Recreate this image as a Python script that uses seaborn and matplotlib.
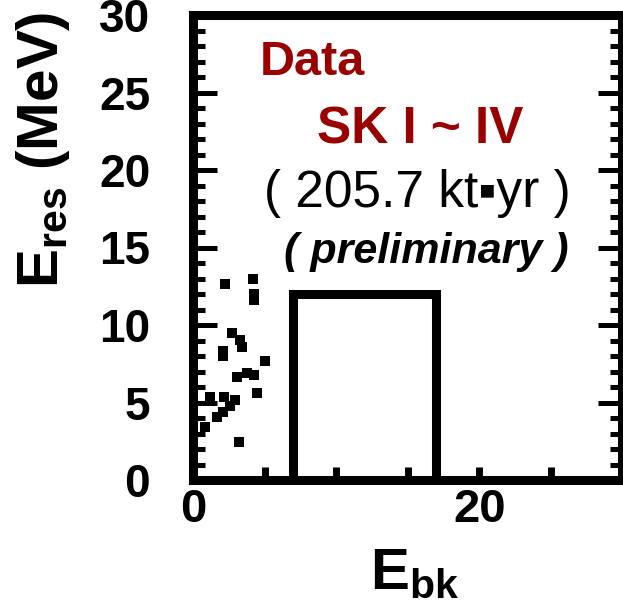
import numpy as np
import pandas as pd
import matplotlib
matplotlib.use("Agg")
import matplotlib.pyplot as plt
from matplotlib.ticker import MultipleLocator, FixedLocator
import seaborn as sns

# Observed events: background-window energy vs. reconstructed energy
e_bk = [2.22, 4.20, 4.27, 4.27, 2.71, 3.27, 3.43, 2.10, 2.10, 5.01, 3.76, 4.25,
        3.08, 4.43, 2.92, 2.15, 1.17, 1.64, 2.10, 2.57, 0.82, 3.22]
e_res = [12.65, 13.0, 12.0, 11.6, 9.48, 9.03, 8.56, 8.35, 8.0, 7.70, 6.9, 6.77,
         6.66, 5.63, 5.15, 5.34, 5.35, 4.08, 4.41, 4.77, 3.44, 2.47]

# Signal window
window_ebk = [7, 17]
window_eres_max = 12

x_ticks = [0, 20]
x_minor = [5, 10, 15, 25, 30]
y_ticks = [0, 5, 10, 15, 20, 25, 30]

sns.set_style("ticks")
plt.rcParams["font.family"] = ["Liberation Sans", "DejaVu Sans"]
plt.rcParams["text.color"] = "black"
plt.rcParams["xtick.labelcolor"] = "black"
plt.rcParams["ytick.labelcolor"] = "black"
plt.rcParams["mathtext.fontset"] = "custom"
plt.rcParams["mathtext.rm"] = "Liberation Sans:bold"
plt.rcParams["mathtext.bf"] = "Liberation Sans:bold"
plt.rcParams["mathtext.it"] = "Liberation Sans:bold"

fig = plt.figure(figsize=(6.23, 6.09), dpi=100)
ax = fig.add_axes([193.3 / 623, 129 / 609, 429 / 623, 465 / 609])

df = pd.DataFrame({"Ebk": e_bk, "Eres": e_res})
sns.scatterplot(data=df, x="Ebk", y="Eres", marker="s", s=46, color="black",
                linewidth=0, ax=ax, legend=False)

# Signal-region box
bx = [window_ebk[0], window_ebk[0], window_ebk[1], window_ebk[1]]
by = [0, window_eres_max, window_eres_max, 0]
ax.plot(bx, by, color="black", lw=6.5, solid_joinstyle="miter", clip_on=False)

ax.set_xlim(0, 30)
ax.set_ylim(0, 30)

for s in ax.spines.values():
    s.set_visible(True)
    s.set_linewidth(6.5)
    s.set_color("black")

ax.xaxis.set_major_locator(FixedLocator(x_ticks))
ax.xaxis.set_minor_locator(FixedLocator(x_minor))
ax.yaxis.set_major_locator(FixedLocator(y_ticks))
ax.yaxis.set_minor_locator(MultipleLocator(1))

ax.tick_params(axis="y", which="major", direction="in", left=True, right=True,
               length=17, width=3.6, color="black", pad=31,
               labelsize=33, labelcolor="black")
ax.tick_params(axis="y", which="minor", direction="in", left=True, right=True,
               length=8.6, width=3.6, color="black")
ax.tick_params(axis="x", which="both", direction="in", bottom=True, top=False,
               length=9.4, width=5, color="black", pad=6, labelsize=34,
               labelcolor="black")
for lab in ax.get_xticklabels() + ax.get_yticklabels():
    lab.set_fontweight("bold")
    lab.set_color("black")

ax.set_xlabel("")
ax.set_ylabel("")

# Axis titles
fig.text(370 / 623, 1 - 547 / 609, r"E$_{\rm bk}$", fontsize=42,
         fontweight="bold", ha="left", va="top", color="black")
fig.text(14 / 623, 1 - 12 / 609, r"E$_{\rm res}$ (MeV)", fontsize=42,
         fontweight="bold", rotation=90, ha="left", va="top", color="black")

# Annotations
dark_red = "#990000"
ax.text(8.34, 26.1, "Data", color=dark_red, fontsize=35, fontweight="bold",
        ha="center", va="baseline")
ax.text(15.85, 21.7, "SK I ~ IV", color=dark_red, fontsize=37,
        fontweight="bold", ha="center", va="baseline")
ax.text(15.64, 17.6, "( 205.7 kt\u25aayr )", color="black", fontsize=37,
        ha="center", va="baseline")
ax.text(16.27, 14.0, "( preliminary )", color="black", fontsize=31,
        fontweight="bold", fontstyle="italic", ha="center", va="baseline")

fig.savefig("out.png", dpi=100, facecolor="white")
